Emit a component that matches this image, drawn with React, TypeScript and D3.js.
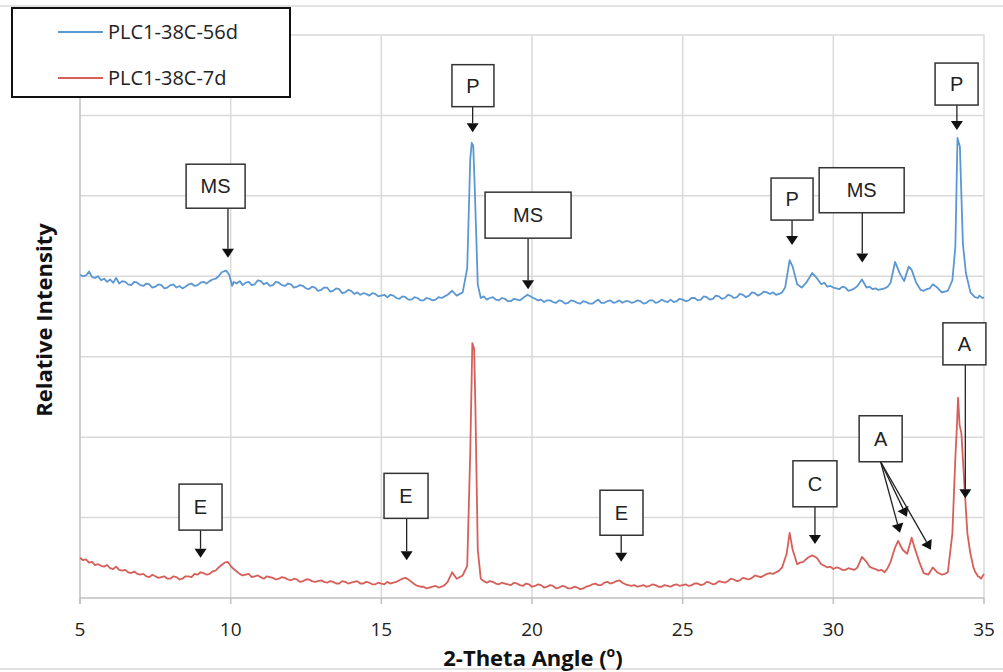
import React from "react";
import * as d3 from "d3";

// ---------- data ----------
const xTicks = [5, 10, 15, 20, 25, 30, 35];
const yGrid = [1, 2, 3, 4, 5, 6, 7];

const seriesNames = ["PLC1-38C-56d", "PLC1-38C-7d"];

// PLC1-38C-56d (blue), [2-theta, relative intensity]
const plc56d: [number, number][] = [
  [5.0, 4.02], [5.1, 4.0], [5.2, 4.01], [5.3, 4.06], [5.4, 3.99], [5.5, 3.98], [5.6, 4.0], [5.7, 3.95],
  [5.8, 3.97], [5.9, 3.93], [6.0, 3.96], [6.1, 3.92], [6.2, 3.98], [6.3, 3.91], [6.4, 3.94], [6.5, 3.93], [6.6, 3.9], [6.7, 3.89],
  [6.8, 3.93], [6.9, 3.92], [7.0, 3.89], [7.1, 3.88], [7.2, 3.91], [7.3, 3.9], [7.4, 3.86], [7.5, 3.87], [7.6, 3.9], [7.7, 3.89],
  [7.8, 3.85], [7.9, 3.86], [8.0, 3.89], [8.1, 3.9], [8.2, 3.86], [8.3, 3.88], [8.4, 3.85],
  [8.5, 3.87], [8.6, 3.9], [8.7, 3.91], [8.8, 3.88], [8.9, 3.89], [9.0, 3.92], [9.1, 3.93], [9.2, 3.91], [9.3, 3.94], [9.4, 3.96], [9.5, 3.97], [9.6, 4.0], [9.7, 4.05], [9.85, 4.07],
  [9.95, 4.02], [10.05, 3.88], [10.1, 3.93], [10.2, 3.91], [10.3, 3.94], [10.4, 3.89], [10.5, 3.92], [10.6, 3.93], [10.7, 3.89], [10.8, 3.9], [10.9, 3.95], [11.0, 3.94], [11.1, 3.9], [11.2, 3.92],
  [11.3, 3.88], [11.4, 3.89], [11.5, 3.93], [11.6, 3.92], [11.7, 3.89], [11.8, 3.88], [11.9, 3.91], [12.0, 3.9], [12.1, 3.86], [12.2, 3.87], [12.3, 3.89], [12.4, 3.88], [12.5, 3.85], [12.6, 3.84], [12.7, 3.87], [12.8, 3.86],
  [12.9, 3.82], [13.0, 3.83], [13.1, 3.86], [13.2, 3.86], [13.3, 3.81], [13.4, 3.82], [13.5, 3.85], [13.6, 3.84], [13.7, 3.79], [13.8, 3.8], [13.9, 3.83], [14.0, 3.82], [14.1, 3.78], [14.2, 3.8], [14.3, 3.77], [14.4, 3.79],
  [14.5, 3.78], [14.6, 3.76], [14.7, 3.79], [14.8, 3.78], [14.9, 3.75], [15.0, 3.76], [15.1, 3.77], [15.2, 3.74], [15.3, 3.77], [15.4, 3.76], [15.5, 3.73], [15.6, 3.72], [15.7, 3.75], [15.8, 3.74], [15.9, 3.71], [16.0, 3.71],
  [16.1, 3.74], [16.2, 3.73], [16.3, 3.7], [16.4, 3.7], [16.5, 3.73], [16.6, 3.72], [16.7, 3.7], [16.8, 3.71], [16.9, 3.74], [17.0, 3.73], [17.1, 3.75], [17.2, 3.77], [17.35, 3.82], [17.5, 3.76],
  [17.7, 3.8], [17.85, 4.1], [17.95, 5.45], [18.0, 5.66], [18.05, 5.62], [18.1, 5.1], [18.2, 3.9], [18.3, 3.73],
  [18.4, 3.75], [18.5, 3.71], [18.6, 3.73], [18.7, 3.74], [18.8, 3.71], [18.9, 3.7], [19.0, 3.73], [19.1, 3.72], [19.2, 3.69], [19.3, 3.69], [19.4, 3.72], [19.5, 3.71], [19.6, 3.7], [19.7, 3.73], [19.85, 3.77],
  [20.0, 3.74], [20.1, 3.72], [20.2, 3.7], [20.3, 3.71], [20.4, 3.68], [20.5, 3.7], [20.6, 3.7], [20.7, 3.68], [20.8, 3.67], [20.9, 3.7], [21.0, 3.69], [21.1, 3.66], [21.2, 3.67], [21.3, 3.7], [21.4, 3.69],
  [21.5, 3.67], [21.6, 3.66], [21.7, 3.69], [21.8, 3.68], [21.9, 3.66], [22.0, 3.66], [22.2, 3.71], [22.3, 3.67], [22.4, 3.67], [22.5, 3.69], [22.6, 3.7], [22.7, 3.67], [22.8, 3.68], [22.9, 3.7], [23.0, 3.67],
  [23.1, 3.69], [23.2, 3.69], [23.3, 3.67], [23.4, 3.68], [23.5, 3.7], [23.6, 3.69], [23.7, 3.66], [23.8, 3.67], [23.9, 3.7], [24.0, 3.7], [24.1, 3.67], [24.2, 3.68], [24.3, 3.71], [24.4, 3.69], [24.5, 3.68], [24.6, 3.71],
  [24.7, 3.68], [24.8, 3.69], [24.9, 3.72], [25.0, 3.71], [25.1, 3.69], [25.2, 3.7], [25.3, 3.73], [25.4, 3.73], [25.5, 3.7], [25.6, 3.71], [25.7, 3.75], [25.8, 3.74], [25.9, 3.71], [26.0, 3.72], [26.1, 3.76], [26.2, 3.75],
  [26.3, 3.72], [26.4, 3.73], [26.5, 3.77], [26.6, 3.76], [26.7, 3.73], [26.8, 3.74], [26.9, 3.78], [27.0, 3.77], [27.1, 3.74], [27.2, 3.76], [27.3, 3.8], [27.4, 3.79], [27.5, 3.76], [27.6, 3.78], [27.7, 3.81], [27.8, 3.8],
  [27.9, 3.78], [28.0, 3.8], [28.1, 3.77], [28.2, 3.78], [28.3, 3.8], [28.4, 3.86], [28.55, 4.2], [28.65, 4.12], [28.8, 3.9], [28.95, 3.86], [29.1, 3.92],
  [29.3, 4.04], [29.45, 3.98], [29.6, 3.9], [29.7, 3.92], [29.8, 3.87], [29.9, 3.88], [30.0, 3.86], [30.1, 3.85], [30.2, 3.84], [30.3, 3.87], [30.4, 3.86], [30.5, 3.82], [30.6, 3.83], [30.7, 3.85],
  [30.8, 3.88], [30.95, 3.96], [31.1, 3.86], [31.2, 3.87], [31.3, 3.84], [31.4, 3.85], [31.5, 3.83], [31.6, 3.84], [31.7, 3.85], [31.8, 3.87], [31.9, 3.92], [32.05, 4.18],
  [32.2, 4.04], [32.35, 3.94], [32.5, 4.12], [32.6, 4.08], [32.75, 3.92], [32.9, 3.83], [33.0, 3.82], [33.1, 3.84], [33.2, 3.85], [33.3, 3.9],
  [33.45, 3.86], [33.6, 3.8], [33.7, 3.81], [33.8, 3.82], [33.95, 3.95], [34.05, 4.37], [34.12, 5.72], [34.2, 5.61], [34.3, 4.4],
  [34.4, 4.04], [34.55, 3.8], [34.65, 3.76], [34.7, 3.74], [34.8, 3.73], [34.85, 3.76], [34.95, 3.73], [35.0, 3.74],
];

// PLC1-38C-7d (red)
const plc7d: [number, number][] = [
  [5.0, 0.5], [5.1, 0.47], [5.2, 0.48], [5.3, 0.44], [5.4, 0.45], [5.5, 0.41], [5.6, 0.42], [5.7, 0.4], [5.8, 0.39],
  [5.9, 0.41], [6.0, 0.37], [6.1, 0.36], [6.2, 0.39], [6.3, 0.35], [6.4, 0.34], [6.5, 0.35], [6.6, 0.32], [6.7, 0.31], [6.8, 0.33], [6.9, 0.3], [7.0, 0.29], [7.1, 0.3], [7.2, 0.27], [7.3, 0.26], [7.4, 0.29],
  [7.5, 0.27], [7.6, 0.25], [7.7, 0.26], [7.8, 0.27], [7.9, 0.24], [8.0, 0.24], [8.1, 0.27], [8.2, 0.26], [8.3, 0.23], [8.4, 0.24], [8.5, 0.27], [8.6, 0.27], [8.7, 0.26], [8.8, 0.3], [8.9, 0.29], [9.0, 0.32],
  [9.1, 0.31], [9.2, 0.29], [9.3, 0.3], [9.4, 0.33], [9.5, 0.34], [9.6, 0.38], [9.7, 0.41], [9.8, 0.44], [9.9, 0.45], [10.0, 0.4], [10.1, 0.36], [10.2, 0.33], [10.3, 0.3], [10.4, 0.28],
  [10.5, 0.29], [10.6, 0.3], [10.7, 0.26], [10.8, 0.27], [10.9, 0.28], [11.0, 0.26], [11.1, 0.24], [11.2, 0.27], [11.3, 0.26], [11.4, 0.25], [11.5, 0.23], [11.6, 0.24], [11.7, 0.26], [11.8, 0.25], [11.9, 0.23], [12.0, 0.22],
  [12.1, 0.24], [12.2, 0.23], [12.3, 0.2], [12.4, 0.21], [12.5, 0.23], [12.6, 0.23], [12.7, 0.21], [12.8, 0.2], [12.9, 0.21], [13.0, 0.22], [13.1, 0.2], [13.2, 0.19], [13.3, 0.21], [13.4, 0.2], [13.5, 0.18], [13.6, 0.18],
  [13.7, 0.21], [13.8, 0.2], [13.9, 0.18], [14.0, 0.19], [14.1, 0.2], [14.2, 0.21], [14.3, 0.18], [14.4, 0.18], [14.5, 0.2], [14.6, 0.19], [14.7, 0.17], [14.8, 0.17], [14.9, 0.19], [15.0, 0.18], [15.1, 0.17], [15.2, 0.2],
  [15.3, 0.18], [15.4, 0.19], [15.5, 0.2], [15.6, 0.22], [15.7, 0.24], [15.8, 0.25], [15.9, 0.23], [16.0, 0.2], [16.1, 0.17], [16.2, 0.15], [16.3, 0.14], [16.4, 0.14], [16.5, 0.12], [16.6, 0.13], [16.7, 0.14], [16.8, 0.15],
  [16.9, 0.13], [17.0, 0.14], [17.1, 0.16], [17.2, 0.2], [17.35, 0.32], [17.5, 0.24], [17.7, 0.28], [17.85, 0.4], [17.95, 1.8], [18.02, 3.17],
  [18.08, 3.1], [18.12, 2.4], [18.2, 0.6], [18.3, 0.24], [18.4, 0.21], [18.5, 0.19], [18.6, 0.21], [18.7, 0.2], [18.8, 0.18], [18.9, 0.17], [19.0, 0.19], [19.1, 0.18],
  [19.2, 0.17], [19.3, 0.16], [19.4, 0.19], [19.5, 0.18], [19.6, 0.16], [19.7, 0.15], [19.8, 0.18], [19.9, 0.17], [20.0, 0.14], [20.1, 0.15], [20.2, 0.17], [20.3, 0.16], [20.4, 0.13], [20.5, 0.14], [20.6, 0.16], [20.7, 0.15],
  [20.8, 0.12], [20.9, 0.13], [21.0, 0.15], [21.1, 0.14], [21.2, 0.12], [21.3, 0.12], [21.4, 0.14], [21.5, 0.13], [21.6, 0.11], [21.7, 0.12], [21.8, 0.14], [21.9, 0.15], [22.0, 0.17], [22.1, 0.18], [22.2, 0.16], [22.3, 0.16],
  [22.4, 0.19], [22.5, 0.2], [22.6, 0.18], [22.7, 0.19], [22.8, 0.21], [22.9, 0.22], [23.0, 0.19], [23.1, 0.17], [23.2, 0.16], [23.3, 0.15], [23.4, 0.16], [23.5, 0.14], [23.6, 0.15], [23.7, 0.16], [23.8, 0.14], [23.9, 0.15],
  [24.0, 0.17], [24.1, 0.16], [24.2, 0.14], [24.3, 0.14], [24.4, 0.16], [24.5, 0.15], [24.6, 0.14], [24.7, 0.16], [24.8, 0.17], [24.9, 0.15], [25.0, 0.16], [25.1, 0.17], [25.2, 0.15], [25.3, 0.16], [25.4, 0.18], [25.5, 0.18],
  [25.6, 0.16], [25.7, 0.17], [25.8, 0.2], [25.9, 0.19], [26.0, 0.17], [26.1, 0.18], [26.2, 0.21], [26.3, 0.2], [26.4, 0.19], [26.5, 0.21], [26.6, 0.24], [26.7, 0.23], [26.8, 0.21], [26.9, 0.22], [27.0, 0.25], [27.1, 0.24],
  [27.2, 0.23], [27.3, 0.25], [27.4, 0.28], [27.5, 0.27], [27.6, 0.26], [27.7, 0.28], [27.8, 0.3], [27.9, 0.31], [28.0, 0.3], [28.1, 0.32], [28.2, 0.34], [28.3, 0.38], [28.45, 0.55], [28.55, 0.81],
  [28.65, 0.6], [28.8, 0.42], [28.9, 0.44], [29.0, 0.45], [29.15, 0.5], [29.3, 0.53], [29.45, 0.5], [29.6, 0.42], [29.7, 0.4], [29.8, 0.38], [29.9, 0.39],
  [30.0, 0.36], [30.1, 0.38], [30.2, 0.37], [30.3, 0.35], [30.4, 0.35], [30.5, 0.37], [30.6, 0.36], [30.7, 0.35], [30.8, 0.38], [30.95, 0.51], [31.1, 0.45], [31.2, 0.39], [31.3, 0.37],
  [31.4, 0.36], [31.5, 0.34], [31.6, 0.35], [31.7, 0.32], [31.8, 0.37], [31.9, 0.45], [32.05, 0.63], [32.15, 0.71], [32.3, 0.6], [32.45, 0.55], [32.6, 0.75],
  [32.7, 0.62], [32.85, 0.45], [33.0, 0.31], [33.15, 0.29], [33.3, 0.38], [33.45, 0.32], [33.6, 0.29], [33.7, 0.3], [33.8, 0.32],
  [33.95, 0.8], [34.05, 1.75], [34.1, 2.13], [34.14, 2.49], [34.19, 2.15], [34.25, 2.05], [34.35, 1.4], [34.45, 0.8],
  [34.55, 0.55], [34.65, 0.38], [34.7, 0.33], [34.8, 0.27], [34.85, 0.26], [34.9, 0.24], [35.0, 0.3],
];

// annotation callouts: label, box centre (data units), arrow tips (data units)
const annLabels = ["MS", "P", "MS", "P", "MS", "P", "A", "A", "C", "E", "E", "E"];
const annBox: [number, number][] = [
  [9.5, 5.12], [18.04, 6.37], [19.87, 4.76], [28.63, 4.96], [30.94, 5.07], [34.09, 6.39],
  [34.35, 3.16], [31.57, 1.98], [29.39, 1.42], [9.0, 1.13], [15.82, 1.27], [22.97, 1.06],
];
const annTips: [number, number][][] = [
  [[9.91, 4.23]], [[18.03, 5.79]], [[19.87, 3.84]], [[28.63, 4.39]], [[30.96, 4.17]], [[34.1, 5.82]],
  [[34.38, 1.24]], [[32.21, 0.81], [32.44, 1.01], [33.24, 0.6]], [[29.39, 0.67]], [[9.0, 0.5]], [[15.84, 0.47]], [[22.96, 0.45]],
];

// ---------- layout ----------
const W = 1003;
const H = 672;
const M = { left: 80, right: 984, top: 35, bottom: 598 };
const colors = ["#5b97d2", "#d65f5a"];
const boxW = [59, 42, 86, 42, 85, 43, 43, 43, 44, 43, 44, 43];
const boxH = [44, 42, 46, 42, 45, 42, 42, 46, 46, 46, 45, 45];

export default function App() {
  const x = d3.scaleLinear().domain([5, 35]).range([M.left, M.right]);
  const y = d3.scaleLinear().domain([0, 7]).range([M.bottom, M.top]);
  const line = d3
    .line<[number, number]>()
    .x((d) => x(d[0]))
    .y((d) => y(d[1]));
  const series = [plc56d, plc7d];
  const font = "'Open Sans', sans-serif";
  const annFont = "'Liberation Sans', Arial, sans-serif";

  return (
    <svg
      width={W}
      height={H}
      style={{ position: "absolute", left: 0, top: 0, background: "#fff" }}
    >
      <rect x={-5} y={6} width={W + 10} height={663} fill="#fff" stroke="#d9d9d9" strokeWidth={1.5} />
      {/* grid */}
      {yGrid.map((v) => (
        <line key={"gy" + v} x1={M.left} x2={M.right} y1={y(v)} y2={y(v)} stroke="#d9d9d9" strokeWidth={1.5} />
      ))}
      {xTicks.slice(1).map((v) => (
        <line key={"gx" + v} x1={x(v)} x2={x(v)} y1={M.top} y2={M.bottom} stroke="#d9d9d9" strokeWidth={1.5} />
      ))}
      {/* axes */}
      <line x1={M.left} x2={M.left} y1={M.top} y2={M.bottom + 6} stroke="#bfbfbf" strokeWidth={1.5} />
      <line x1={M.left} x2={M.right} y1={M.bottom} y2={M.bottom} stroke="#bfbfbf" strokeWidth={1.5} />
      {xTicks.map((v) => (
        <g key={"t" + v}>
          <line x1={x(v)} x2={x(v)} y1={M.bottom} y2={M.bottom + 6} stroke="#bfbfbf" strokeWidth={1.5} />
          <text x={x(v)} y={636} textAnchor="middle" fontFamily={font} fontSize={19} fill="#222">
            {v}
          </text>
        </g>
      ))}
      {/* axis titles */}
      <text x={533} y={666} textAnchor="middle" fontFamily={font} fontWeight="bold" fontSize={22} fill="#111">
        2-Theta Angle (
        <tspan fontSize={14} dy={-9}>o</tspan>
        <tspan dy={9}>)</tspan>
      </text>
      <text
        transform={`translate(52,320) rotate(-90)`}
        textAnchor="middle"
        fontFamily={font}
        fontWeight="bold"
        fontSize={22}
        fill="#111"
      >
        Relative Intensity
      </text>
      {/* series */}
      {series.map((s, i) => (
        <path key={"s" + i} d={line(s) || ""} fill="none" stroke={colors[i]} strokeWidth={1.8} strokeLinejoin="round" />
      ))}
      {/* annotations */}
      {annLabels.map((lab, i) => {
        const cx = x(annBox[i][0]);
        const cy = y(annBox[i][1]);
        const bw = boxW[i];
        const bh = boxH[i];
        const by = cy + bh / 2;
        return (
          <g key={"a" + i}>
            {annTips[i].map((t, j) => {
              const tx = x(t[0]);
              const ty = y(t[1]);
              const sx = annTips[i].length > 1 ? cx : tx;
              const ang = Math.atan2(ty - by, tx - sx);
              const hl = 9;
              const hw = 6;
              const bx = tx - hl * Math.cos(ang);
              const byy = ty - hl * Math.sin(ang);
              const px = -Math.sin(ang);
              const py = Math.cos(ang);
              return (
                <g key={j}>
                  <line x1={sx} y1={by} x2={bx} y2={byy} stroke="#222" strokeWidth={1.3} />
                  <path
                    d={`M${tx},${ty}L${bx + px * hw},${byy + py * hw}L${bx - px * hw},${byy - py * hw}Z`}
                    fill="#111"
                  />
                </g>
              );
            })}
            <rect x={cx - bw / 2} y={cy - bh / 2} width={bw} height={bh} fill="#fff" stroke="#333" strokeWidth={1.5} />
            <text x={cx} y={cy + 7} textAnchor="middle" fontFamily={annFont} fontSize={20} fill="#222">
              {lab}
            </text>
          </g>
        );
      })}
      {/* legend */}
      <rect x={12} y={8} width={278} height={89} fill="#fff" stroke="#111" strokeWidth={2} />
      {seriesNames.map((n, i) => (
        <g key={"l" + i}>
          <line x1={58} x2={103} y1={32 + i * 46} y2={32 + i * 46} stroke={colors[i]} strokeWidth={2} />
          <text x={108} y={39 + i * 46} fontFamily={font} fontSize={20} fill="#222">
            {n}
          </text>
        </g>
      ))}
    </svg>
  );
}
